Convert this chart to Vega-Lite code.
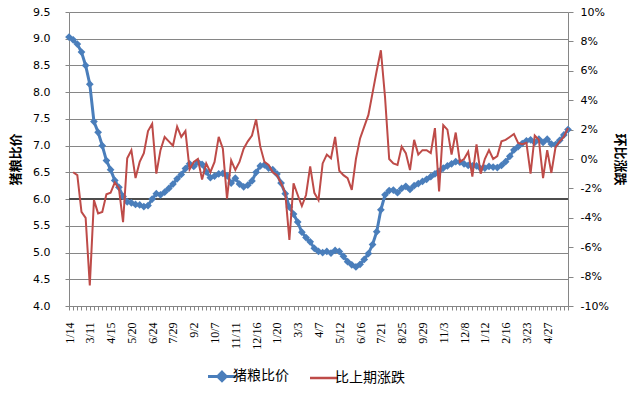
{
  "$schema": "https://vega.github.io/schema/vega-lite/v6.json",
  "width": 499,
  "height": 294,
  "autosize": {"type": "none"},
  "padding": {"left": 69, "top": 12, "right": 66, "bottom": 91},
  "background": "white",
  "config": {
    "view": {"stroke": null},
    "axis": {"domainColor": "#868686", "tickColor": "#868686", "labelColor": "#000000", "labelFont": "DejaVu Sans", "labelFontSize": 11, "titleColor": "#000000"}
  },
  "data": {"values": [
    {"i":0,"p":9.03},{"i":1,"p":8.98,"c":-0.9},{"i":2,"p":8.9,"c":-1.1},{"i":3,"p":8.75,"c":-3.6},{"i":4,"p":8.5,"c":-4.0},
    {"i":5,"p":8.15,"c":-8.6},{"i":6,"p":7.45,"c":-2.8},{"i":7,"p":7.25,"c":-3.7},{"i":8,"p":7.0,"c":-3.6},{"i":9,"p":6.72,"c":-2.4},
    {"i":10,"p":6.55,"c":-2.3},{"i":11,"p":6.35,"c":-1.6},{"i":12,"p":6.22,"c":-2.0},{"i":13,"p":6.05,"c":-4.3},{"i":14,"p":5.95,"c":0.05},
    {"i":15,"p":5.93,"c":0.6},{"i":16,"p":5.9,"c":-1.3},{"i":17,"p":5.89,"c":-0.2},{"i":18,"p":5.86,"c":0.4},{"i":19,"p":5.88,"c":1.9},
    {"i":20,"p":6.0,"c":2.4},{"i":21,"p":6.1,"c":-1.0},{"i":22,"p":6.08,"c":0.6},{"i":23,"p":6.13,"c":1.5},{"i":24,"p":6.2,"c":1.2},
    {"i":25,"p":6.28,"c":0.9},{"i":26,"p":6.38,"c":2.2},{"i":27,"p":6.46,"c":1.5},{"i":28,"p":6.57,"c":1.9},{"i":29,"p":6.66,"c":-0.7},
    {"i":30,"p":6.61,"c":-0.2},{"i":31,"p":6.69,"c":0.0},{"i":32,"p":6.65,"c":-1.4},{"i":33,"p":6.51,"c":-0.3},{"i":34,"p":6.4,"c":-0.9},
    {"i":35,"p":6.43,"c":-0.2},{"i":36,"p":6.47,"c":1.5},{"i":37,"p":6.48,"c":0.7},{"i":38,"p":6.44,"c":-2.7},{"i":39,"p":6.3,"c":-0.1},
    {"i":40,"p":6.39,"c":-0.75},{"i":41,"p":6.28,"c":-0.2},{"i":42,"p":6.23,"c":0.7},{"i":43,"p":6.26,"c":1.2},{"i":44,"p":6.34,"c":1.6},
    {"i":45,"p":6.5,"c":2.7},{"i":46,"p":6.62,"c":0.84},{"i":47,"p":6.64,"c":-0.2},{"i":48,"p":6.58,"c":-0.4},{"i":49,"p":6.55,"c":-0.9},
    {"i":50,"p":6.47,"c":-1.1},{"i":51,"p":6.3,"c":-1.65},{"i":52,"p":6.1,"c":-2.3},{"i":53,"p":5.85,"c":-5.5},{"i":54,"p":5.72,"c":-1.65},
    {"i":55,"p":5.57,"c":-2.45},{"i":56,"p":5.38,"c":-3.2},{"i":57,"p":5.28,"c":-2.45},{"i":58,"p":5.2,"c":-0.5},{"i":59,"p":5.08,"c":-2.3},
    {"i":60,"p":5.02,"c":-2.8},{"i":61,"p":5.0,"c":-0.3},{"i":62,"p":5.02,"c":0.3},{"i":63,"p":4.99,"c":0.05},{"i":64,"p":5.04,"c":1.5},
    {"i":65,"p":5.02,"c":-0.8},{"i":66,"p":4.93,"c":-1.1},{"i":67,"p":4.83,"c":-1.3},{"i":68,"p":4.77,"c":-2.1},{"i":69,"p":4.73,"c":0.0},
    {"i":70,"p":4.78,"c":1.4},{"i":71,"p":4.87,"c":2.2},{"i":72,"p":4.98,"c":3.0},{"i":73,"p":5.15,"c":4.5},{"i":74,"p":5.39,"c":6.0},
    {"i":75,"p":5.8,"c":7.4},{"i":76,"p":6.08,"c":4.2},{"i":77,"p":6.16,"c":0.0},{"i":78,"p":6.17,"c":-0.3},{"i":79,"p":6.12,"c":-0.4},
    {"i":80,"p":6.2,"c":0.84},{"i":81,"p":6.24,"c":0.4},{"i":82,"p":6.18,"c":-0.75},{"i":83,"p":6.25,"c":1.3},{"i":84,"p":6.29,"c":0.3},
    {"i":85,"p":6.33,"c":0.6},{"i":86,"p":6.37,"c":0.6},{"i":87,"p":6.42,"c":0.4},{"i":88,"p":6.47,"c":2.1},{"i":89,"p":6.52,"c":-2.2},
    {"i":90,"p":6.58,"c":2.3},{"i":91,"p":6.62,"c":2.0},{"i":92,"p":6.66,"c":0.3},{"i":93,"p":6.7,"c":1.8},{"i":94,"p":6.69,"c":-0.2},
    {"i":95,"p":6.66,"c":0.0},{"i":96,"p":6.63,"c":0.5},{"i":97,"p":6.62,"c":-1.2},{"i":98,"p":6.62,"c":1.0},{"i":99,"p":6.57,"c":-1.0},
    {"i":100,"p":6.58,"c":0.0},{"i":101,"p":6.61,"c":0.6},{"i":102,"p":6.6,"c":0.0},{"i":103,"p":6.59,"c":0.2},{"i":104,"p":6.63,"c":1.2},
    {"i":105,"p":6.7,"c":1.3},{"i":106,"p":6.8,"c":1.5},{"i":107,"p":6.92,"c":1.7},{"i":108,"p":6.98,"c":1.1},{"i":109,"p":7.04,"c":1.0},
    {"i":110,"p":7.09,"c":1.1},{"i":111,"p":7.11,"c":-1.0},{"i":112,"p":7.06,"c":1.6},{"i":113,"p":7.12,"c":1.3},{"i":114,"p":7.06,"c":-1.3},
    {"i":115,"p":7.12,"c":0.6},{"i":116,"p":7.03,"c":-0.95},{"i":117,"p":7.02,"c":0.8},{"i":118,"p":7.1,"c":1.2},{"i":119,"p":7.2,"c":1.5},
    {"i":120,"p":7.3,"c":2.1}
  ]},
  "layer": [
    {
      "layer": [
        {
          "data": {"values": [{"v": 6}]},
          "mark": {"type": "rule", "color": "#4d4d4d", "strokeWidth": 2},
          "encoding": {
            "y": {
              "field": "v", "type": "quantitative",
              "scale": {"domain": [4, 9.5], "nice": false, "zero": false},
              "axis": {
                "orient": "left",
                "values": [4, 4.5, 5, 5.5, 6, 6.5, 7, 7.5, 8, 8.5, 9, 9.5],
                "format": ".1f",
                "grid": true,
                "gridColor": "#868686",
                "gridOpacity": 1,
                "labelOverlap": false,
                "tickSize": 4,
                "labelPadding": 15,
                "title": "猪粮比价",
                "titleFont": "Noto Sans CJK SC",
                "titleFontSize": 13,
                "titleFontWeight": "bold",
                "titlePadding": 10
              }
            }
          }
        },
        {
          "mark": {"type": "line", "strokeWidth": 3, "point": {"shape": "diamond", "size": 60, "filled": true, "opacity": 1}},
          "encoding": {
            "x": {
              "field": "i", "type": "quantitative",
              "scale": {"domain": [0, 120], "nice": false, "zero": false},
              "axis": {
                "values": [0,1,2,3,4,5,6,7,8,9,10,11,12,13,14,15,16,17,18,19,20,21,22,23,24,25,26,27,28,29,30,31,32,33,34,35,36,37,38,39,40,41,42,43,44,45,46,47,48,49,50,51,52,53,54,55,56,57,58,59,60,61,62,63,64,65,66,67,68,69,70,71,72,73,74,75,76,77,78,79,80,81,82,83,84,85,86,87,88,89,90,91,92,93,94,95,96,97,98,99,100,101,102,103,104,105,106,107,108,109,110,111,112,113,114,115,116,117,118,119,120],
                "labelExpr": "datum.value % 5 == 0 && datum.value <= 115 ? ['1/14','3/11','4/15','5/20','6/24','7/29','9/2','10/7','11/11','12/16','1/20','3/3','4/7','5/12','6/16','7/21','8/25','9/29','11/3','12/8','1/12','2/16','3/23','4/27'][datum.value / 5] : ''",
                "labelAngle": -90,
                "labelFont": "Liberation Serif",
                "labelFontSize": 12,
                "labelOverlap": false,
                "labelBound": false,
                "labelFlush": false,
                "tickSize": 4,
                "labelPadding": 12,
                "grid": false,
                "title": null
              }
            },
            "y": {
              "field": "p", "type": "quantitative",
              "scale": {"domain": [4, 9.5], "nice": false, "zero": false},
              "axis": {
                "orient": "left",
                "values": [4, 4.5, 5, 5.5, 6, 6.5, 7, 7.5, 8, 8.5, 9, 9.5],
                "format": ".1f",
                "grid": true,
                "gridColor": "#868686",
                "gridOpacity": 1,
                "labelOverlap": false,
                "tickSize": 4,
                "labelPadding": 15,
                "title": "猪粮比价",
                "titleFont": "Noto Sans CJK SC",
                "titleFontSize": 13,
                "titleFontWeight": "bold",
                "titlePadding": 10
              }
            },
            "color": {
              "datum": "猪粮比价", "type": "nominal",
              "scale": {"domain": ["猪粮比价", "比上期涨跌"], "range": ["#4a7ebb", "#be4b48"]},
              "legend": {
                "orient": "none",
                "direction": "horizontal",
                "legendX": 146,
                "legendY": 357,
                "title": null,
                "symbolSize": 784,
                "symbolStrokeWidth": 3,
                "labelFont": "Noto Sans CJK SC",
                "labelFontSize": 14,
                "labelColor": "#000000",
                "labelOffset": 4,
                "columnPadding": 16,
                "encode": {
                  "symbols": {
                    "update": {
                      "shape": {"signal": "datum.label === '猪粮比价' ? 'M-1,0L1,0M0,-0.3L0.3,0L0,0.3L-0.3,0Z' : 'M-1,0L1,0'"},
                      "strokeWidth": {"signal": "datum.label === '猪粮比价' ? 3 : 2.5"},
                      "fill": {"signal": "datum.label === '猪粮比价' ? '#4a7ebb' : 'transparent'"},
                      "stroke": {"signal": "datum.label === '猪粮比价' ? '#4a7ebb' : '#be4b48'"}
                    }
                  }
                }
              }
            }
          }
        }
      ]
    },
    {
      "mark": {"type": "line", "strokeWidth": 2},
      "encoding": {
        "x": {
          "field": "i", "type": "quantitative",
          "scale": {"domain": [0, 120], "nice": false, "zero": false},
          "axis": {
            "values": [0,1,2,3,4,5,6,7,8,9,10,11,12,13,14,15,16,17,18,19,20,21,22,23,24,25,26,27,28,29,30,31,32,33,34,35,36,37,38,39,40,41,42,43,44,45,46,47,48,49,50,51,52,53,54,55,56,57,58,59,60,61,62,63,64,65,66,67,68,69,70,71,72,73,74,75,76,77,78,79,80,81,82,83,84,85,86,87,88,89,90,91,92,93,94,95,96,97,98,99,100,101,102,103,104,105,106,107,108,109,110,111,112,113,114,115,116,117,118,119,120],
            "labelExpr": "datum.value % 5 == 0 && datum.value <= 115 ? ['1/14','3/11','4/15','5/20','6/24','7/29','9/2','10/7','11/11','12/16','1/20','3/3','4/7','5/12','6/16','7/21','8/25','9/29','11/3','12/8','1/12','2/16','3/23','4/27'][datum.value / 5] : ''",
            "labelAngle": -90,
            "labelFont": "Liberation Serif",
            "labelFontSize": 12,
            "labelOverlap": false,
            "labelBound": false,
            "labelFlush": false,
            "tickSize": 4,
            "labelPadding": 12,
            "grid": false,
            "title": null
          }
        },
        "y": {
          "field": "c", "type": "quantitative",
          "scale": {"domain": [-10, 10], "nice": false, "zero": false},
          "axis": {
            "orient": "right",
            "values": [-10, -8, -6, -4, -2, 0, 2, 4, 6, 8, 10],
            "labelExpr": "datum.value + '%'",
            "labelOverlap": false,
            "grid": false,
            "tickSize": 5,
            "labelPadding": 7,
            "title": "环比涨跌",
            "titleAngle": 90,
            "titleFont": "Noto Sans CJK SC",
            "titleFontSize": 13,
            "titleFontWeight": "bold",
            "titlePadding": 4
          }
        },
        "color": {"datum": "比上期涨跌", "type": "nominal"}
      }
    }
  ],
  "resolve": {"scale": {"y": "independent"}}
}
